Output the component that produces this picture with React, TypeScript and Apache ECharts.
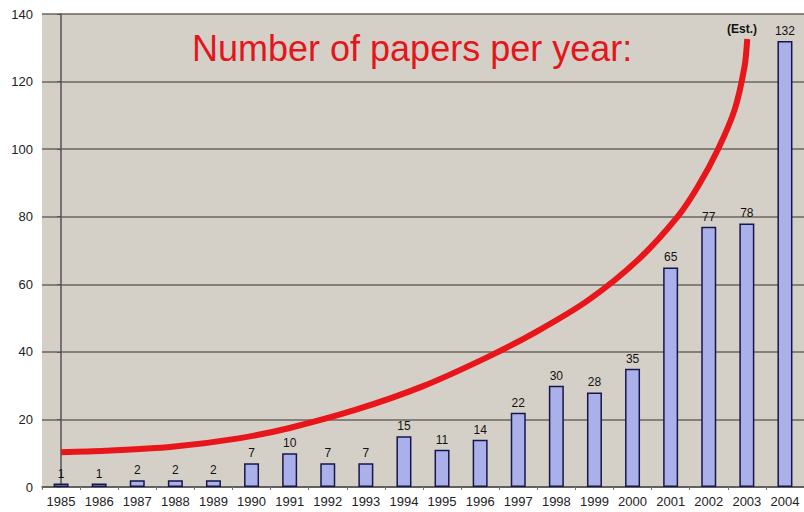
import React, { useEffect, useRef } from "react";
import * as echarts from "echarts";

const years = ["1985","1986","1987","1988","1989","1990","1991","1992","1993","1994","1995","1996","1997","1998","1999","2000","2001","2002","2003","2004"];
const papers = [1, 1, 2, 2, 2, 7, 10, 7, 7, 15, 11, 14, 22, 30, 28, 35, 65, 77, 78, 132];
const yTicks = [0, 20, 40, 60, 80, 100, 120, 140];
// trend curve points: [category position, value]
const trendX = [0, 1.17, 2.92, 4.66, 5.97, 7.72, 9.47, 11.22, 12.53, 13.84, 15.15, 16.19, 16.72, 17.24, 17.68, 17.94, 18.01];
const trendY = [10.3, 10.7, 11.9, 14.4, 17.4, 22.8, 29.7, 38.6, 46.3, 55.3, 67.3, 80.1, 89.0, 99.9, 111.7, 124.5, 132.6];
const titleText = "Number of papers per year:";
const estText = "(Est.)";

export default function App() {
  const ref = useRef<HTMLDivElement>(null);
  useEffect(() => {
    document.body.style.margin = "0";
    if (!ref.current) return;
    const chart = echarts.init(ref.current, null, { renderer: "svg" });
    const font = "Liberation Sans, Arial, sans-serif";
    chart.setOption({
      animation: false,
      backgroundColor: "#ffffff",
      grid: {
        left: 42,
        right: 0,
        top: 14,
        bottom: 25,
        show: true,
        backgroundColor: "#d5d0c7",
        borderWidth: 0,
      },
      xAxis: [
        {
          type: "category",
          data: years,
          axisLine: { show: true, lineStyle: { color: "#555", width: 1.5 } },
          axisTick: { show: true, length: 3, lineStyle: { color: "#777" } },
          axisLabel: { color: "#222", fontSize: 13, fontFamily: font, margin: 8 },
        },
        {
          type: "value",
          min: -0.5,
          max: 19.5,
          show: false,
        },
      ],
      yAxis: {
        type: "value",
        min: 0,
        max: 140,
        interval: 20,
        axisLine: { show: true, lineStyle: { color: "#555", width: 1.5 } },
        axisTick: { show: true, length: 4, lineStyle: { color: "#555" } },
        axisLabel: { color: "#222", fontSize: 13, fontFamily: font, margin: 9 },
        splitLine: { show: true, lineStyle: { color: "#6a665f", width: 1.5 } },
      },
      series: [
        {
          type: "bar",
          data: papers,
          barWidth: 15,
          itemStyle: { color: "#a9b0ea", borderColor: "#16164a", borderWidth: 1.5 },
          label: {
            show: true,
            position: "top",
            distance: 4,
            color: "#111",
            fontSize: 12,
            fontFamily: font,
          },
          z: 2,
        },
        {
          type: "line",
          xAxisIndex: 1,
          data: trendX.map((x, i) => [x, trendY[i]]),
          smooth: 0.3,
          symbol: "none",
          lineStyle: { color: "#e8161b", width: 6, cap: "butt" },
          z: 3,
        },
      ],
      graphic: [
        {
          type: "text",
          left: 192,
          top: 30,
          style: {
            text: titleText,
            fill: "#e3161c",
            font: `36px ${font}`,
          },
          z: 10,
        },
        {
          type: "text",
          left: 727,
          top: 23,
          style: {
            text: estText,
            fill: "#111",
            font: `bold 12px ${font}`,
          },
          z: 10,
        },
      ],
    });
    return () => chart.dispose();
  }, []);
  return <div ref={ref} style={{ width: 804, height: 512 }} />;
}
